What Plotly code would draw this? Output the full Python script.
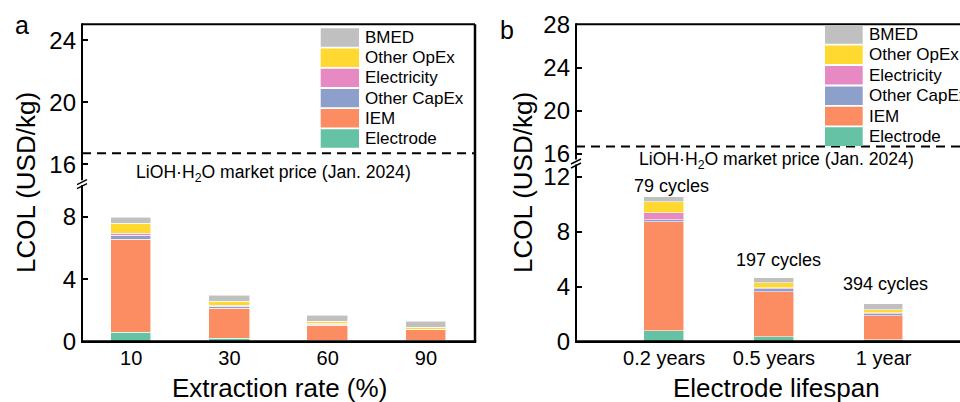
import plotly.graph_objects as go

# ---------------- data ----------------
series_names = ["Electrode", "IEM", "Other CapEx", "Electricity", "Other OpEx", "BMED"]
series_colors = ["#66c2a5", "#fc8d62", "#8da0cb", "#e78ac3", "#ffd92f", "#c0c0c0"]

categories_a = ["10", "30", "60", "90"]
electrode_a = [0.60, 0.17, 0.08, 0.04]
iem_a = [5.96, 1.97, 0.97, 0.71]
capex_a = [0.24, 0.08, 0.06, 0.03]
electricity_a = [0.12, 0.07, 0.07, 0.02]
opex_a = [0.62, 0.25, 0.08, 0.07]
bmed_a = [0.43, 0.39, 0.43, 0.42]

categories_b = ["0.2 years", "0.5 years", "1 year"]
electrode_b = [0.79, 0.32, 0.15]
iem_b = [7.89, 3.33, 1.74]
capex_b = [0.14, 0.20, 0.15]
electricity_b = [0.57, 0.05, 0.07]
opex_b = [0.74, 0.34, 0.22]
bmed_b = [0.41, 0.42, 0.44]

cycle_labels = ["79 cycles", "197 cycles", "394 cycles"]
market_price = 16.7

ticks_a_low = [0, 4, 8]
ticks_a_up = [16, 20, 24]
ticks_b_low = [0, 4, 8, 12]
ticks_b_up = [16, 20, 24, 28]

# ---------------- layout helpers ----------------
W, H = 960, 402
FONT = "Liberation Sans, Arial, sans-serif"


def px(x):
    return x / W


def py(y):
    return 1 - y / H


series_a = [electrode_a, iem_a, capex_a, electricity_a, opex_a, bmed_a]
series_b = [electrode_b, iem_b, capex_b, electricity_b, opex_b, bmed_b]

fig = go.Figure()

# panel geometry (pixels)
A_L, A_R, TOP, BOT = 82, 475, 24.3, 341.7
A_BRK = 182.7
B_L, B_R = 576, 960
B_BRK = 162.0

for name, col, vals in zip(series_names, series_colors, series_a):
    fig.add_trace(go.Bar(x=list(range(len(categories_a))), y=vals, name=name,
                         marker=dict(color=col, line=dict(color="rgba(255,255,255,0.7)", width=0.8)),
                         width=0.41, xaxis="x", yaxis="y", showlegend=False))
for name, col, vals in zip(series_names, series_colors, series_b):
    fig.add_trace(go.Bar(x=list(range(len(categories_b))), y=vals, name=name,
                         marker=dict(color=col, line=dict(color="rgba(255,255,255,0.7)", width=0.8)),
                         width=0.36, xaxis="x2", yaxis="y3", showlegend=False))

xr_a = [-0.5, 3.5]
xr_b = [-0.804, 2.696]

# market price dashed lines (upper axes)
dash = dict(color="black", width=2, dash="9px,6px")
fig.add_trace(go.Scatter(x=xr_a, y=[market_price] * 2, mode="lines", line=dash,
                         xaxis="x", yaxis="y2", showlegend=False, hoverinfo="skip"))
fig.add_trace(go.Scatter(x=xr_b, y=[market_price] * 2, mode="lines", line=dash,
                         xaxis="x2", yaxis="y4", showlegend=False, hoverinfo="skip"))

tickfont = dict(family=FONT, size=24, color="black")
xtickfont = dict(family=FONT, size=20, color="black")

yax_common = dict(ticks="inside", ticklen=6, tickwidth=2, tickcolor="black", showline=False,
                  showgrid=False, zeroline=False, tickfont=tickfont, ticklabelstandoff=5,
                  automargin=False, fixedrange=True)
xax_common = dict(showgrid=False, zeroline=False, showline=False, ticks="", tickfont=xtickfont,
                  ticklabelstandoff=2, automargin=False, fixedrange=True)

fig.update_layout(
    template="none",
    width=W, height=H, margin=dict(l=0, r=0, t=0, b=0, pad=0, autoexpand=False),
    paper_bgcolor="white", plot_bgcolor="white", barmode="stack", bargap=0,
    showlegend=False,
    font=dict(family=FONT, color="black"),
    xaxis=dict(domain=[px(A_L), px(A_R)], range=xr_a, tickvals=list(range(len(categories_a))),
               ticktext=categories_a, anchor="y", **xax_common),
    yaxis=dict(domain=[py(BOT), py(A_BRK)], range=[0, 10.2], tickvals=ticks_a_low, anchor="x", **yax_common),
    yaxis2=dict(domain=[py(A_BRK), py(TOP)], range=[14.8, 25.03], tickvals=ticks_a_up, anchor="x", **yax_common),
    xaxis2=dict(domain=[px(B_L), px(B_R)], range=xr_b, tickvals=list(range(len(categories_b))),
                ticktext=categories_b, anchor="y3", **xax_common),
    yaxis3=dict(domain=[py(BOT), py(B_BRK)], range=[0, 13.07], tickvals=ticks_b_low, anchor="x2", **yax_common),
    yaxis4=dict(domain=[py(B_BRK), py(TOP)], range=[15.26, 28.0], tickvals=ticks_b_up, anchor="x2", **yax_common),
)

shapes = []
annotations = []


def line(x0, y0, x1, y1, w=2.0):
    shapes.append(dict(type="line", xref="paper", yref="paper", x0=px(x0), y0=py(y0),
                       x1=px(x1), y1=py(y1), line=dict(color="black", width=w)))


# frames
# panel a
line(A_L, TOP, A_R, TOP)
line(A_R, TOP, A_R, BOT, 2.5)
line(A_L - 1, BOT, A_R + 1.2, BOT, 2.8)
line(A_L, TOP - 1, A_L, A_BRK - 2.5)
line(A_L, A_BRK + 2.5, A_L, BOT)
line(A_L - 5, A_BRK - 0.5 + 2.5, A_L + 5, A_BRK - 0.5 - 2.5, 1.5)
line(A_L - 5, A_BRK + 3.5 + 2.5, A_L + 5, A_BRK + 3.5 - 2.5, 1.5)
# panel b
line(B_L, TOP, B_R, TOP)
line(B_L - 1, BOT, B_R, BOT, 2.8)
line(B_L, TOP - 1, B_L, B_BRK - 2.5)
line(B_L, B_BRK + 2.5, B_L, BOT)
line(B_L - 5, B_BRK - 0.5 + 2.5, B_L + 5, B_BRK - 0.5 - 2.5, 1.5)
line(B_L - 5, B_BRK + 3.5 + 2.5, B_L + 5, B_BRK + 3.5 - 2.5, 1.5)

# custom legends
LEG = [(320.7, 359.0, 362.7, 28.3, 20.2), (825.0, 862.7, 867.3, 25.0, 20.46)]
for (sx0, sx1, tx, ty0, pitch) in LEG:
    for k, idx in enumerate(reversed(range(len(series_names)))):
        y0 = ty0 + k * pitch
        shapes.append(dict(type="rect", xref="paper", yref="paper", x0=px(sx0), x1=px(sx1),
                           y0=py(y0), y1=py(y0 + pitch - 1.8), fillcolor=series_colors[idx],
                           line=dict(width=0), layer="above"))
        annotations.append(dict(xref="paper", yref="paper", x=px(tx), y=py(y0 + (pitch - 1.8) / 2),
                                text=series_names[idx], showarrow=False, xanchor="left", yanchor="middle",
                                font=dict(family=FONT, size=17, color="black")))

# market price labels
mp_text = "LiOH·H<sub>2</sub>O market price (Jan. 2024)"
annotations.append(dict(xref="paper", yref="paper", x=px(273), y=py(174), text=mp_text, showarrow=False,
                        xanchor="center", yanchor="middle", font=dict(family=FONT, size=17.6, color="black")))
annotations.append(dict(xref="paper", yref="paper", x=px(776), y=py(160), text=mp_text, showarrow=False,
                        xanchor="center", yanchor="middle", font=dict(family=FONT, size=17.6, color="black")))

# cycle labels above panel b bars
cycle_y = [11.3, 5.94, 4.2]
cycle_dx = [7, 5, 2]
for i, lab in enumerate(cycle_labels):
    annotations.append(dict(xref="x2", yref="y3", x=i, y=cycle_y[i], text=lab, showarrow=False,
                            xshift=cycle_dx[i], xanchor="center", yanchor="middle",
                            font=dict(family=FONT, size=18, color="black")))

# axis titles
annotations.append(dict(xref="paper", yref="paper", x=px(279), y=py(388), text="Extraction rate (%)",
                        showarrow=False, xanchor="center", yanchor="middle",
                        font=dict(family=FONT, size=26, color="black")))
annotations.append(dict(xref="paper", yref="paper", x=px(776), y=py(388), text="Electrode lifespan",
                        showarrow=False, xanchor="center", yanchor="middle",
                        font=dict(family=FONT, size=26, color="black")))
for xc in (26, 523):
    annotations.append(dict(xref="paper", yref="paper", x=px(xc), y=py(183), text="LCOL (USD/kg)",
                            textangle=-90, showarrow=False, xanchor="center", yanchor="middle",
                            font=dict(family=FONT, size=26, color="black")))

# panel letters
annotations.append(dict(xref="paper", yref="paper", x=px(22), y=py(25), text="a", showarrow=False,
                        xanchor="center", yanchor="middle", font=dict(family=FONT, size=25, color="black")))
annotations.append(dict(xref="paper", yref="paper", x=px(507), y=py(30), text="b", showarrow=False,
                        xanchor="center", yanchor="middle", font=dict(family=FONT, size=25, color="black")))

fig.update_layout(shapes=shapes, annotations=annotations)
fig.write_html("out.html", config={"displayModeBar": False},
               post_script="document.body.style.margin='0';document.body.style.overflow='hidden';")
